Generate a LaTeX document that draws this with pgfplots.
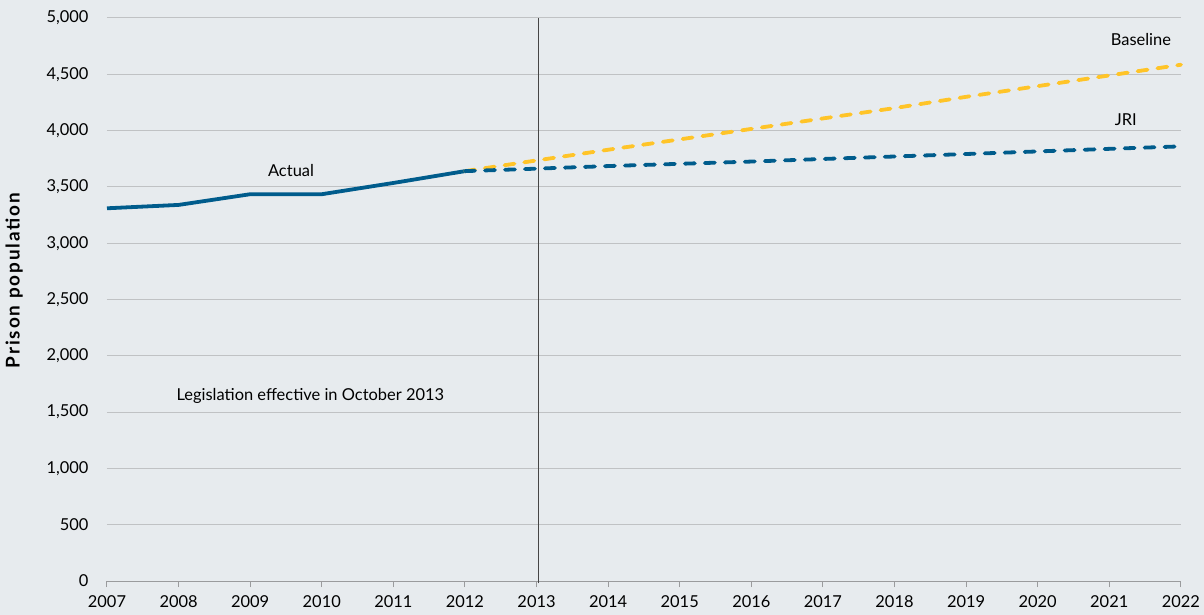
\documentclass[border=0pt]{standalone}
\usepackage{fontspec}
\setmainfont{Lato}
\usepackage{pgfplots}
\pgfplotsset{compat=1.18}
\usetikzlibrary{backgrounds,calc}
\definecolor{bg}{RGB}{231,235,238}
\definecolor{blu}{RGB}{0,92,140}
\definecolor{yel}{RGB}{255,196,40}
\definecolor{grd}{RGB}{192,194,196}
\definecolor{vln}{RGB}{70,70,70}
\begin{document}
\begin{tikzpicture}[x=1bp,y=1bp]
\begin{axis}[
  name=ax,
  scale only axis,
  width=1074bp, height=563bp,
  xmin=2007, xmax=2022, ymin=0, ymax=5000,
  xtick={2007,...,2022},
  ytick={0,500,...,5000},
  axis x line*=bottom,
  axis y line*=left,
  x axis line style={grd!80!black, line width=1pt, -},
  y axis line style={draw=none},
  x tick style={grd!80!black, line width=1pt},
  xtick align=outside,
  major tick length=6bp,
  ymajorgrids,
  grid style={grd, line width=1pt},
  y tick style={draw=none},
  /pgf/number format/assume math mode=true,
  x tick label style={/pgf/number format/1000 sep={}, font=\fontsize{16.5}{18}\selectfont, yshift=-5bp},
  y tick label style={/pgf/number format/1000 sep={,}, font=\fontsize{16.5}{18}\selectfont},
  yticklabel style={xshift=-15bp},
  ylabel={\fontsize{19}{20}\selectfont\bfseries\addfontfeatures{LetterSpace=10}Prison population},
  ylabel style={yshift=17bp, xshift=19bp},
  clip=false,
]
\addplot[vln, line width=1.3pt] coordinates {(2013.03,-20) (2013.03,5000)};
\addplot[blu, line width=3.8bp, line join=round] coordinates {
 (2007,3310) (2008,3340) (2009,3435) (2010,3435) (2011,3535) (2012,3640)};
\addplot[yel, line width=3.8bp, line cap=round, dash pattern=on 10bp off 10bp] coordinates {
 (2012,3640) (2013,3735) (2014,3830) (2015,3922) (2016,4015) (2017,4108)
 (2018,4200) (2019,4300) (2020,4395) (2021,4490) (2022,4585)};
\addplot[blu, line width=3.8bp, line cap=round, dash pattern=on 10bp off 10bp] coordinates {
 (2012,3640) (2013,3662) (2014,3685) (2015,3705) (2016,3725) (2017,3748)
 (2018,3770) (2019,3792) (2020,3815) (2021,3838) (2022,3860)};
\node[font=\fontsize{16.5}{18}\selectfont] at (axis cs:2009.57,3642) {Actual};
\node[font=\fontsize{16.5}{18}\selectfont] at (axis cs:2021.44,4805) {Baseline};
\node[font=\fontsize{16.5}{18}\selectfont] at (axis cs:2021.23,4098) {JRI};
\node[font=\fontsize{16.5}{18}\selectfont] at (axis cs:2009.84,1642) {Legislation effective in October 2013};
\end{axis}
\begin{scope}[on background layer]
\fill[bg] ($(ax.south west)+(-107bp,-34bp)$) rectangle +(1204bp,615bp);
\end{scope}
\pgfresetboundingbox
\path[use as bounding box] ($(ax.south west)+(-107bp,-34bp)$) rectangle +(1204bp,615bp);
\end{tikzpicture}
\end{document}
